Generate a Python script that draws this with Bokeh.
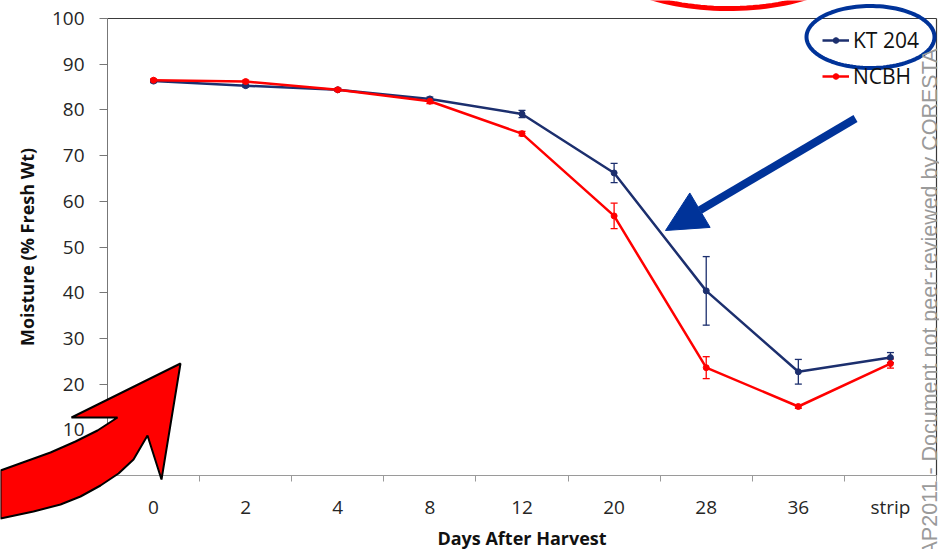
import numpy as np
from bokeh.plotting import figure
from bokeh.models import (Range1d, FixedTicker, Whisker, TeeHead, ColumnDataSource,
                          Legend, LegendItem, PolyAnnotation, Label, Arrow,
                          NormalHead, CustomJSTickFormatter)
from bokeh.embed import file_html
from bokeh.resources import INLINE

# ---- data ----
days = ["0", "2", "4", "8", "12", "20", "28", "36", "strip"]
kt204 = [86.3, 85.3, 84.4, 82.4, 79.1, 66.2, 40.4, 22.7, 25.8]
kt204_err = [0.3, 0.3, 0.3, 0.4, 0.8, 2.1, 7.5, 2.7, 1.1]
ncbh = [86.5, 86.2, 84.4, 81.9, 74.8, 56.8, 23.6, 15.1, 24.5]
ncbh_err = [0.3, 0.3, 0.3, 0.5, 0.5, 2.8, 2.4, 0.4, 1.0]
y_ticks = [0, 10, 20, 30, 40, 50, 60, 70, 80, 90, 100]
series_names = ["KT 204", "NCBH"]
watermark = "AP2011 - Document not peer-reviewed by CORESTA"

BLUE = "#1c2f6e"
RED = "#ff0000"
ANN_BLUE = "#003399"
FONT = "Open Sans"

# ---- layout: the frame covers the whole canvas; the plot area sits inside ----
W, H = 939, 549
AL, AR, AT, AB = 107, 936, 18, 475      # plot-area edges in canvas pixels
n = len(days)
YMAX = 100
ppx = (AR - AL) / n
ppy = (AB - AT) / YMAX
x_range = Range1d(-AL / ppx, n + (W - AR) / ppx)
y_range = Range1d(-(H - AB) / ppy, YMAX + AT / ppy)

pos = np.arange(n) + 0.5

p = figure(width=W, height=H, output_backend="svg", toolbar_location=None,
           title=None, x_range=x_range, y_range=y_range,
           min_border=0, min_border_left=0, min_border_right=0,
           min_border_top=0, min_border_bottom=0)
p.outline_line_color = None
p.grid.visible = False
p.background_fill_color = "white"
p.border_fill_color = "white"

# x axis
xa = p.xaxis[0]
xa.fixed_location = 0
xa.bounds = (0, n)
xa.ticker = FixedTicker(ticks=list(pos), minor_ticks=list(range(n + 1)))
xa.formatter = CustomJSTickFormatter(args=dict(cats=days),
                                     code="return cats[Math.floor(tick)];")
xa.major_tick_out = 0
xa.major_tick_in = 0
xa.minor_tick_out = 6
xa.minor_tick_in = 0
xa.minor_tick_line_color = "#9a9a9a"
xa.axis_line_color = "#9a9a9a"
xa.major_label_text_font = FONT
xa.major_label_text_font_size = "19px"
xa.major_label_text_color = "#262626"
xa.major_label_standoff = 12
xa.axis_label = "Days After Harvest"
xa.axis_label_text_font = FONT
xa.axis_label_text_font_style = "bold"
xa.axis_label_text_font_size = "18px"
xa.axis_label_text_color = "#111111"
xa.axis_label_standoff = 3

# y axis
ya = p.yaxis[0]
ya.fixed_location = 0
ya.bounds = (0, YMAX)
ya.ticker = FixedTicker(ticks=y_ticks)
ya.major_tick_out = 8
ya.major_tick_in = 0
ya.minor_tick_line_color = None
ya.axis_line_color = "#777777"
ya.major_tick_line_color = "#777777"
ya.major_label_text_font = FONT
ya.major_label_text_font_size = "19px"
ya.major_label_text_color = "#262626"
ya.major_label_standoff = 15
ya.axis_label = "Moisture (% Fresh Wt)"
ya.axis_label_text_font = FONT
ya.axis_label_text_font_style = "bold"
ya.axis_label_text_font_size = "18px"
ya.axis_label_text_color = "#111111"
ya.axis_label_standoff = 10

# top / right border of the plot area
p.segment(x0=[0, n], y0=[YMAX, 0], x1=[n, n], y1=[YMAX, YMAX],
          line_color="#3a3a3a", line_width=1.2)

# series
items = []
for name, vals, errs, col in [(series_names[0], kt204, kt204_err, BLUE),
                              (series_names[1], ncbh, ncbh_err, RED)]:
    v = np.array(vals)
    e = np.array(errs)
    src = ColumnDataSource(dict(x=pos, y=v, upper=v + e, lower=v - e))
    w = Whisker(source=src, base="x", upper="upper", lower="lower",
                line_color=col, line_width=1.3,
                upper_head=TeeHead(size=7, line_color=col, line_width=1.3),
                lower_head=TeeHead(size=7, line_color=col, line_width=1.3))
    p.add_layout(w)
    r1 = p.line("x", "y", source=src, line_color=col, line_width=2.5)
    r2 = p.scatter("x", "y", source=src, size=6, color=col, marker="circle")
    items.append(LegendItem(label=name, renderers=[r1, r2]))

legend = Legend(items=items, location=(822, 459), border_line_color=None,
                background_fill_alpha=0, label_text_font=FONT,
                label_text_font_size="21px", label_text_color="#111111",
                glyph_width=27, glyph_height=14, label_height=27,
                label_standoff=4, spacing=8, padding=4, margin=0)
p.add_layout(legend)

# ---- annotations (canvas pixel coordinates) ----
t = np.linspace(0, 2 * np.pi, 120)
red_ell = dict(cx=728, cy=-42, rx=125, ry=50)
blue_ell = dict(cx=870, cy=36.5, rx=64, ry=31)
p.add_layout(PolyAnnotation(xs=list(red_ell["cx"] + red_ell["rx"] * np.cos(t)),
                            ys=list(red_ell["cy"] + red_ell["ry"] * np.sin(t)),
                            xs_units="canvas", ys_units="canvas",
                            fill_alpha=0, line_color=RED, line_alpha=1, line_width=5))
p.add_layout(PolyAnnotation(xs=list(blue_ell["cx"] + blue_ell["rx"] * np.cos(t)),
                            ys=list(blue_ell["cy"] + blue_ell["ry"] * np.sin(t)),
                            xs_units="canvas", ys_units="canvas",
                            fill_alpha=0, line_color=ANN_BLUE, line_alpha=1, line_width=4))

p.add_layout(Arrow(x_start=855, y_start=118, x_end=665, y_end=230,
                   start_units="canvas", end_units="canvas",
                   line_color=ANN_BLUE, line_width=8,
                   end=NormalHead(size=40, fill_color=ANN_BLUE, line_color=ANN_BLUE,
                                  line_width=1)))

red_arrow_x = [0, 25, 50, 75, 97, 117, 71, 180, 161, 147, 133, 118, 100, 80, 60, 33, 0]
red_arrow_y = [470, 461, 452, 441, 430, 417, 417, 363, 479, 435, 459, 473, 485, 496, 504, 511, 518]
p.add_layout(PolyAnnotation(xs=red_arrow_x, ys=red_arrow_y,
                            xs_units="canvas", ys_units="canvas",
                            fill_color=RED, fill_alpha=1, line_color="black",
                            line_alpha=1, line_width=2))

p.add_layout(Label(x=929, y=555, x_units="canvas", y_units="canvas", text=watermark,
                   angle=np.pi / 2, text_font="Liberation Sans",
                   text_font_size="21.5px", text_color="#9a9a9a",
                   text_align="left", text_baseline="middle"))

open("out.html", "w").write(file_html(p, INLINE))
